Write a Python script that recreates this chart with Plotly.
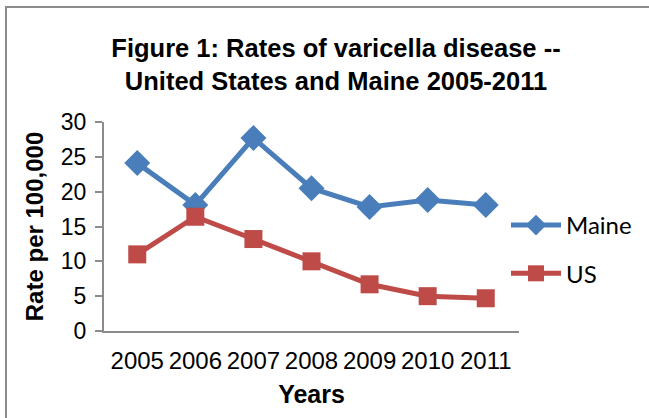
import plotly.graph_objects as go

years = ["2005", "2006", "2007", "2008", "2009", "2010", "2011"]
maine = [24.1, 18.1, 27.7, 20.5, 17.8, 18.8, 18.1]
us = [11.0, 16.4, 13.2, 10.0, 6.7, 5.0, 4.7]

fig = go.Figure()
fig.add_trace(go.Scatter(
    x=years, y=maine, name="Maine", mode="lines+markers", legendgroup="a",
    line=dict(color="#4a7ebb", width=5),
    marker=dict(symbol="diamond", size=20, color="#4a7ebb"),
))
fig.add_trace(go.Scatter(
    x=years, y=us, name="US", mode="lines+markers", legendgroup="b",
    line=dict(color="#be4b48", width=5),
    marker=dict(symbol="square", size=18, color="#be4b48"),
))

W, H = 649, 418
L, R, T, B = 104, 130, 122, 87
pw, ph = W - L - R, H - T - B

def px(x):
    return (x - L) / pw

def py(y):
    return (H - B - y) / ph

fig.add_shape(type="rect", xref="paper", yref="paper",
              x0=px(6), x1=px(700), y0=py(7), y1=py(440),
              line=dict(color="#8c8c8c", width=2), fillcolor="rgba(0,0,0,0)", layer="below")

fig.update_layout(
    width=W, height=H,
    margin=dict(l=L, r=R, t=T, b=B),
    paper_bgcolor="white", plot_bgcolor="white",
    font=dict(family="Liberation Sans, Arial", color="black"),
    title=dict(
        text="<b>Figure 1: Rates of varicella disease --<br>United States and Maine 2005-2011</b>",
        x=336 / W, xanchor="center", xref="container",
        y=1 - 57 / H, yanchor="middle", yref="container",
        font=dict(size=25.5, family="Liberation Sans, Arial", color="black"),
    ),
    xaxis=dict(
        type="category", showgrid=False, showline=True, linecolor="#8c8c8c", linewidth=2,
        ticks="", tickfont=dict(size=24), zeroline=False, ticklabelstandoff=7,
        title=dict(text="<b>Years</b>", font=dict(size=25), standoff=13),
    ),
    yaxis=dict(
        range=[0, 30], dtick=5, showgrid=False, showline=True, linecolor="#8c8c8c", linewidth=2,
        ticks="outside", ticklen=7, tickcolor="#8c8c8c", tickwidth=2, tickfont=dict(size=23),
        zeroline=False, ticklabelstandoff=4,
        title=dict(text="<b>Rate per 100,000</b>", font=dict(size=24), standoff=10),
    ),
    legend=dict(
        x=px(506), y=py(203), xanchor="left", yanchor="top",
        font=dict(size=24, family="Lato, Calibri, sans-serif"),
        tracegroupgap=14, bgcolor="rgba(0,0,0,0)", itemwidth=50,
    ),
    showlegend=True,
)

fig.write_html("out.html", config={"displayModeBar": False},
               post_script="document.body.style.margin='0';")
